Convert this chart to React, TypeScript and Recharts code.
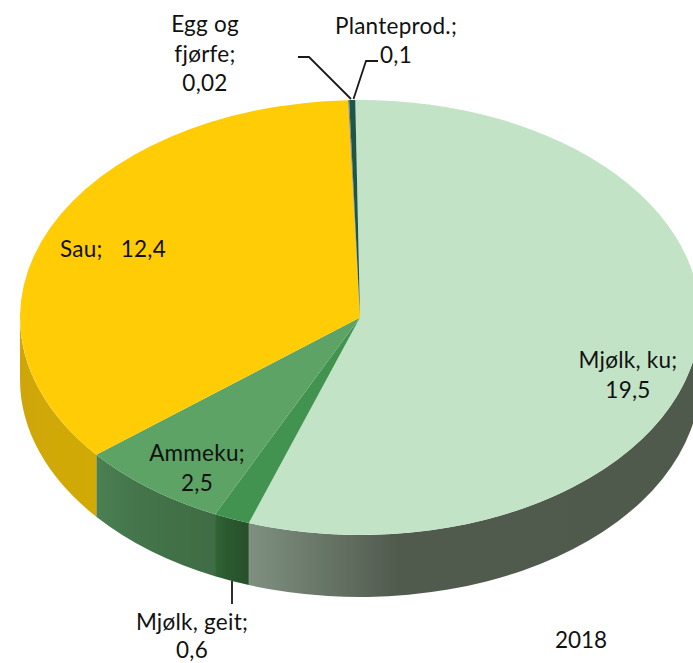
import { Cell, Pie, PieChart } from "recharts";

// Production value per branch, 2018 (labels use Norwegian decimal commas).
const names = ["Mjølk, ku", "Mjølk, geit", "Ammeku", "Sau", "Egg og fjørfe", "Planteprod."];
const values = [19.5, 0.6, 2.5, 12.4, 0.02, 0.1];
const yearLabel = "2018";

const topColors = ["#c3e3c6", "#439350", "#5ca365", "#ffcc05", "#8a8a8a", "#1d5546"];
const wallStops = [
  ["#7f9080", "#505b4e", "#4f5a4d"],
  ["#2f6536", "#2b5a30", "#274f2a"],
  ["#4b8052", "#44754b", "#3f6c44"],
  ["#cfa60a", "#d0a808", "#d2aa05"],
  ["#777777", "#777777", "#777777"],
  ["#1d5546", "#1d5546", "#1d5546"],
];

const W = 693;
const H = 663;
const CX = 360;
const CY = 317.5;
const RX = 340;
const RY = 217.5; // squashed radius of the tilted top face
const DEPTH = 62;
const START = 90.8; // the first slice sits just left of 12 o'clock

const FONT = "Lato, 'Open Sans', sans-serif";
const FONT_SIZE = 22.5;
const LINE_H = 29.5;

const chartData = names.map((name, i) => ({ name, value: values[i] }));

const pt = (deg: number, dy = 0) => {
  const a = (deg * Math.PI) / 180;
  return `${(CX + RX * Math.cos(a)).toFixed(2)} ${(CY - RY * Math.sin(a) + dy).toFixed(2)}`;
};

function TopFace(props: any) {
  const { startAngle, endAngle, fill } = props;
  const large = Math.abs(startAngle - endAngle) > 180 ? 1 : 0;
  const d = `M ${CX} ${CY} L ${pt(startAngle)} A ${RX} ${RY} 0 ${large} 1 ${pt(endAngle)} Z`;
  return <path d={d} fill={fill} />;
}

// Only the part of a slice facing the viewer (0 to -180 degrees) has a visible wall.
function Wall(props: any) {
  const { startAngle, endAngle, fill } = props;
  const hi = Math.min(startAngle, 0);
  const lo = Math.max(endAngle, -180);
  if (hi <= lo) return <g />;
  const d =
    `M ${pt(hi)} A ${RX} ${RY} 0 0 1 ${pt(lo)} ` +
    `L ${pt(lo, DEPTH)} A ${RX} ${RY} 0 0 0 ${pt(hi, DEPTH)} Z`;
  return <path d={d} fill={fill} />;
}

function Lines({ x, y, rows, anchor = "middle", lineH = LINE_H }: any) {
  return (
    <text
      x={x}
      y={y}
      textAnchor={anchor}
      fontFamily={FONT}
      fontSize={FONT_SIZE}
      letterSpacing={0.25}
      fill="#111"
      style={{ whiteSpace: "pre" }}
    >
      {rows.map((r: string, i: number) => (
        <tspan key={i} x={x} dy={i === 0 ? 0 : lineH}>
          {r}
        </tspan>
      ))}
    </text>
  );
}

const comma = (v: number) => String(v).replace(".", ",");

function Leader({ d }: { d: string }) {
  return <path d={d} fill="none" stroke="#1a1a1a" strokeWidth={1.8} />;
}

function SliceLabel(props: any) {
  const v = comma(props.value);
  switch (props.name) {
    case "Mjølk, ku":
      return <Lines x={628} y={368} rows={["Mjølk, ku;", v]} />;
    case "Mjølk, geit":
      return (
        <g>
          <Leader d="M 232 581 L 232 604" />
          <Lines x={192} y={630} lineH={27.5} rows={["Mjølk, geit;", v]} />
        </g>
      );
    case "Ammeku":
      return <Lines x={197} y={461} rows={["Ammeku;", v]} />;
    case "Sau":
      return <Lines x={60} y={257} anchor="start" rows={[`Sau;   ${v}`]} />;
    case "Egg og fjørfe":
      return (
        <g>
          <Leader d="M 298 57 L 309 57 L 351 99" />
          <Lines x={205} y={32} rows={["Egg og", "fjørfe;", v]} />
        </g>
      );
    default:
      return (
        <g>
          <Leader d="M 378 61 L 366 61 L 353.5 99" />
          <Lines x={396} y={34} rows={["Planteprod.;"]} />
          <Lines x={396} y={63} rows={[v]} />
        </g>
      );
  }
}

export default function App() {
  return (
    <div style={{ position: "fixed", left: 0, top: 0, width: W, height: H, background: "#fff" }}>
      <PieChart width={W} height={H} margin={{ top: 0, right: 0, bottom: 0, left: 0 }}>
        <defs>
          {wallStops.map((s, i) => (
            <linearGradient key={i} id={`wall-${i}`} x1="0" y1="0" x2="1" y2="0">
              <stop offset="0%" stopColor={s[0]} />
              <stop offset="33%" stopColor={s[1]} />
              <stop offset="100%" stopColor={s[2]} />
            </linearGradient>
          ))}
        </defs>
        <Pie
          data={chartData}
          dataKey="value"
          nameKey="name"
          cx={CX}
          cy={CY}
          outerRadius={RX}
          startAngle={START}
          endAngle={START - 360}
          stroke="none"
          shape={Wall}
          isAnimationActive={false}
        >
          {names.map((n, i) => (
            <Cell key={n} fill={`url(#wall-${i})`} />
          ))}
        </Pie>
        <Pie
          data={chartData}
          dataKey="value"
          nameKey="name"
          cx={CX}
          cy={CY}
          outerRadius={RX}
          startAngle={START}
          endAngle={START - 360}
          stroke="none"
          shape={TopFace}
          label={SliceLabel}
          labelLine={false}
          isAnimationActive={false}
        >
          {names.map((n, i) => (
            <Cell key={n} fill={topColors[i]} />
          ))}
        </Pie>
        <text x={581} y={648} textAnchor="middle" fontFamily={FONT} fontSize={FONT_SIZE} fill="#111">
          {yearLabel}
        </text>
      </PieChart>
    </div>
  );
}
